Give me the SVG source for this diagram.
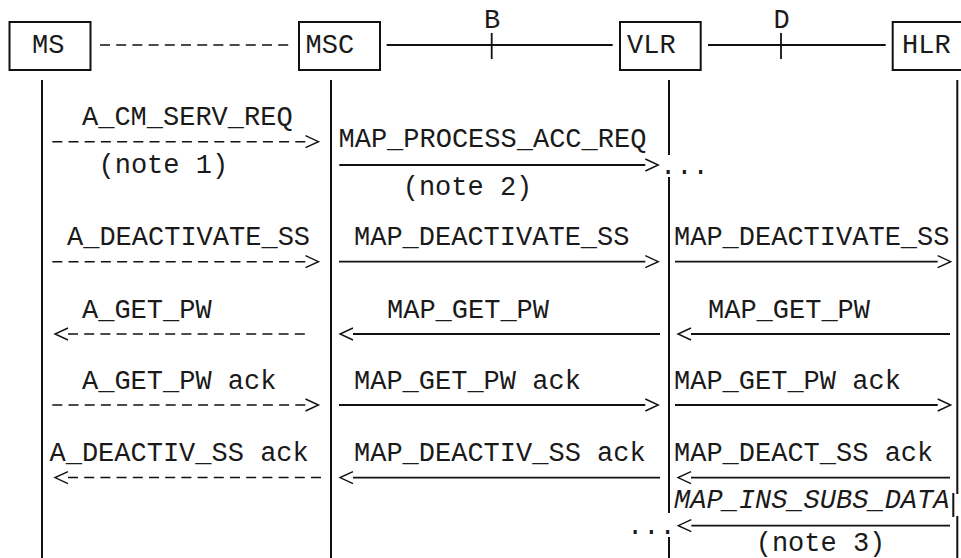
<svg xmlns="http://www.w3.org/2000/svg" width="961" height="558" viewBox="0 0 961 558">
<style>
text{font-family:"Liberation Mono","Courier New",monospace;font-size:27px;fill:#1a1a1a}
.it{font-style:italic}
.mid{text-anchor:middle}
.box{fill:#fff;stroke:#111;stroke-width:2}
.life{stroke:#111;stroke-width:2;fill:none}
.sol{stroke:#111;stroke-width:1.8;fill:none}
.dash{stroke:#111;stroke-width:1.5;fill:none;stroke-dasharray:10 6.2}
.tick{stroke:#111;stroke-width:1.8}
</style>
<defs>
<marker id="aR" markerUnits="userSpaceOnUse" markerWidth="16" markerHeight="16" refX="0" refY="6" orient="0" overflow="visible">
<path d="M0,0 L13,6 L0,12" fill="none" stroke="#111" stroke-width="1.4"/>
</marker>
<marker id="aL" markerUnits="userSpaceOnUse" markerWidth="16" markerHeight="16" refX="13" refY="6" orient="0" overflow="visible">
<path d="M13,0 L0,6 L13,12" fill="none" stroke="#111" stroke-width="1.4"/>
</marker>
</defs>

<g id="interfaces">
<line class="dash" x1="100" y1="45" x2="290" y2="45"/>
<line class="sol" x1="386.7" y1="45" x2="612.7" y2="45"/>
<line class="tick" x1="491.7" y1="33" x2="491.7" y2="59"/>
<text class="mid" x="492" y="28">B</text>
<line class="sol" x1="708" y1="45" x2="885.7" y2="45"/>
<line class="tick" x1="781" y1="33" x2="781" y2="59"/>
<text class="mid" x="781.5" y="28">D</text>
</g>

<g id="MS">
<rect class="box" x="9.5" y="22" width="81" height="48"/>
<text x="32" y="53">MS</text>
<line class="life" x1="42" y1="80" x2="42" y2="558"/>
</g>
<g id="MSC">
<rect class="box" x="299" y="22" width="81" height="48"/>
<text x="305.5" y="53">MSC</text>
<line class="life" x1="331" y1="80" x2="331" y2="558"/>
</g>
<g id="VLR">
<rect class="box" x="620" y="22" width="80.7" height="48"/>
<text x="627" y="53">VLR</text>
<path class="life" d="M669,80 V155 M669,177 V513 M669,537 V558"/>
</g>
<g id="HLR">
<rect class="box" x="892.7" y="22" width="81" height="48"/>
<text x="902" y="53">HLR</text>
<path class="life" d="M957.3,80 V494 M953.3,493 V517 M957.3,516 V558"/>
</g>

<g id="connectors">
<line class="dash" x1="52.3" y1="141.7" x2="305.5" y2="141.7" marker-end="url(#aR)"/>
<line class="sol" x1="339.3" y1="165" x2="645.3" y2="165" marker-end="url(#aR)"/>

<line class="dash" x1="52.3" y1="261.7" x2="305.5" y2="261.7" marker-end="url(#aR)"/>
<line class="sol" x1="339" y1="261.7" x2="645.3" y2="261.7" marker-end="url(#aR)"/>
<line class="sol" x1="675" y1="261.7" x2="937.7" y2="261.7" marker-end="url(#aR)"/>

<line class="dash" x1="68" y1="334" x2="305" y2="334" marker-start="url(#aL)"/>
<line class="sol" x1="353" y1="334" x2="660" y2="334" marker-start="url(#aL)"/>
<line class="sol" x1="691" y1="334" x2="950" y2="334" marker-start="url(#aL)"/>

<line class="dash" x1="52.3" y1="405" x2="305.5" y2="405" marker-end="url(#aR)"/>
<line class="sol" x1="339" y1="405" x2="645.3" y2="405" marker-end="url(#aR)"/>
<line class="sol" x1="675" y1="405" x2="937.7" y2="405" marker-end="url(#aR)"/>

<line class="dash" x1="68" y1="477.6" x2="321.7" y2="477.6" marker-start="url(#aL)"/>
<line class="sol" x1="353" y1="477.6" x2="660" y2="477.6" marker-start="url(#aL)"/>
<line class="sol" x1="691" y1="477.6" x2="950" y2="477.6" marker-start="url(#aL)"/>

<line class="sol" x1="691.3" y1="525.7" x2="950" y2="525.7" marker-start="url(#aL)"/>
</g>

<g id="labels">
<text x="82" y="125">A_CM_SERV_REQ</text>
<text class="mid" x="163.3" y="173">(note 1)</text>
<text x="338.5" y="147">MAP_PROCESS_ACC_REQ</text>
<text class="mid" x="467.5" y="195">(note 2)</text>
<text x="660" y="174">...</text>

<text x="67" y="245">A_DEACTIVATE_SS</text>
<text x="354" y="245">MAP_DEACTIVATE_SS</text>
<text x="674" y="245">MAP_DEACTIVATE_SS</text>

<text x="82" y="318">A_GET_PW</text>
<text x="387" y="318">MAP_GET_PW</text>
<text x="708" y="318">MAP_GET_PW</text>

<text x="82" y="389">A_GET_PW ack</text>
<text x="354" y="389">MAP_GET_PW ack</text>
<text x="674" y="389">MAP_GET_PW ack</text>

<text x="49.5" y="461">A_DEACTIV_SS ack</text>
<text x="354" y="461">MAP_DEACTIV_SS ack</text>
<text x="674" y="461">MAP_DEACT_SS ack</text>

<text class="it" x="674" y="508">MAP_INS_SUBS_DATA</text>
<text x="627" y="533.5">...</text>
<text class="mid" x="820.5" y="551">(note 3)</text>
</g>
</svg>
